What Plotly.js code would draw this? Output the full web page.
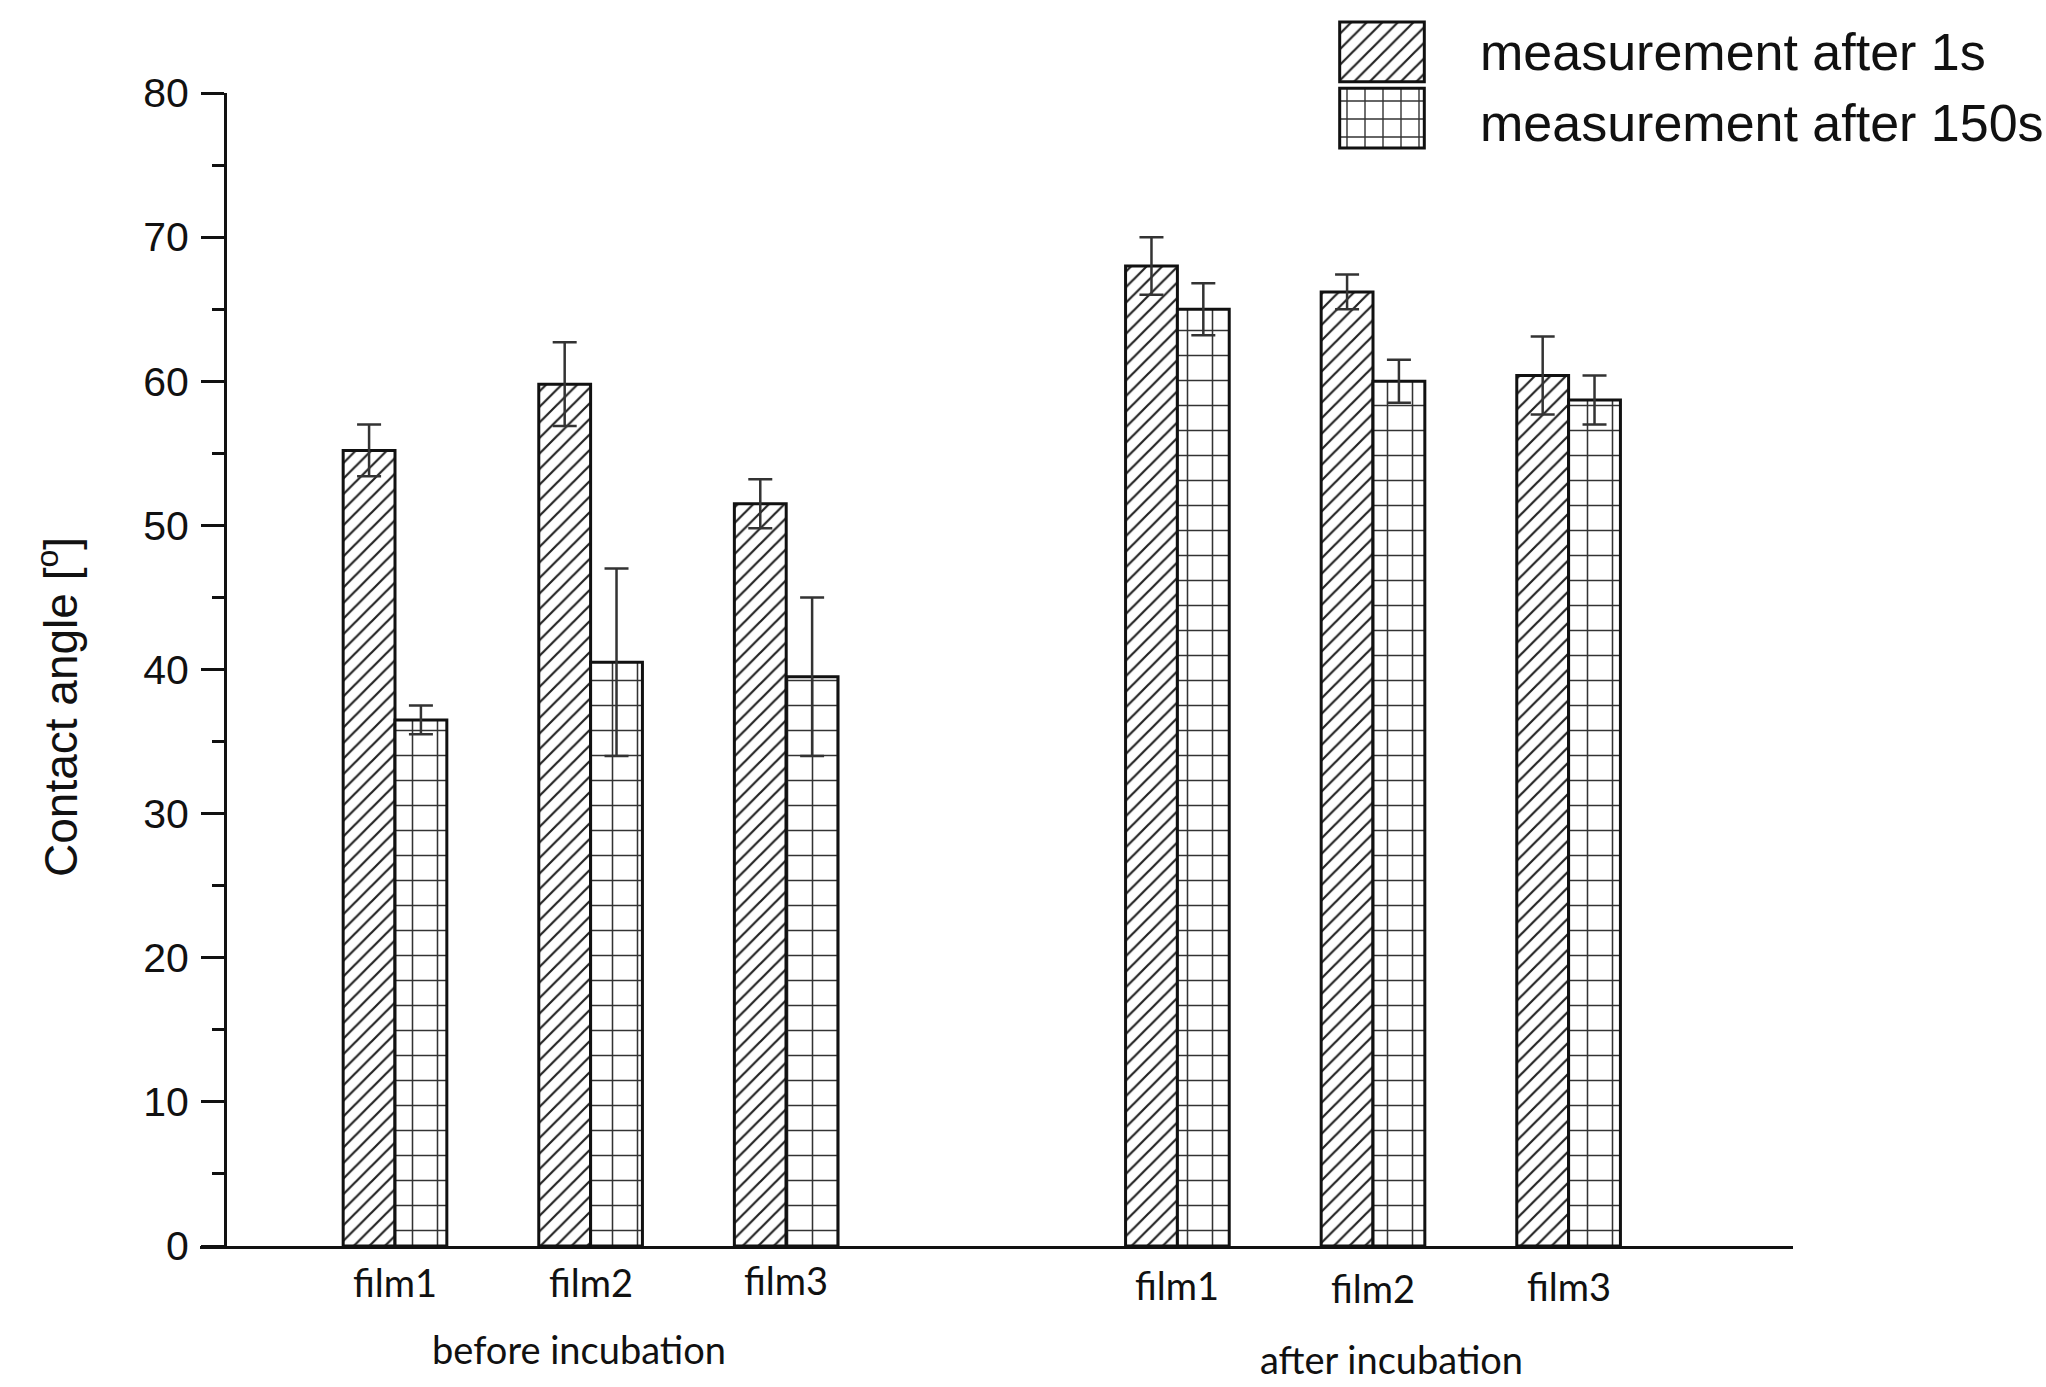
<!DOCTYPE html>
<html>
<head>
<meta charset="utf-8">
<script src="https://cdn.plot.ly/plotly-3.0.1.min.js"></script>
<style>html,body{margin:0;padding:0;background:#fff;}#chart{width:2046px;height:1387px;}</style>
</head>
<body>
<div id="chart"></div>
<script>
// Data
const positions = [0, 1, 2, 4, 5, 6];
const filmLabels = ["film1", "film2", "film3", "film1", "film2", "film3"];
const groupLabels = ["before incubation", "after incubation"];
const seriesNames = ["measurement after 1s", "measurement after 150s"];
const after1s = [55.2, 59.8, 51.5, 68.0, 66.2, 60.4];
const after1sErr = [1.8, 2.9, 1.7, 2.0, 1.2, 2.7];
const after150s = [36.5, 40.5, 39.5, 65.0, 60.0, 58.7];
const after150sErr = [1.0, 6.5, 5.5, 1.8, 1.5, 1.7];

const barW = 0.265;
const off = barW / 2;
const x1 = positions.map(p => p - off);
const x2 = positions.map(p => p + off);

const errStyle = {type: 'data', visible: true, color: '#333', thickness: 2.5, width: 12};
const lineStyle = {color: '#111', width: 3};

const traces = [
  {type: 'bar', x: x1, y: after1s, width: barW, name: seriesNames[0], showlegend: false,
   marker: {color: '#fff', line: lineStyle, pattern: {shape: '/', fgcolor: '#222', bgcolor: '#fff', size: 11, solidity: 0.2}},
   error_y: Object.assign({array: after1sErr}, errStyle), xaxis: 'x', yaxis: 'y'},
  {type: 'bar', x: x2, y: after150s, width: barW, name: seriesNames[1], showlegend: false,
   marker: {color: '#fff', line: lineStyle, pattern: {shape: '+', fgcolor: '#333', bgcolor: '#fff', size: 25, solidity: 0.12}},
   error_y: Object.assign({array: after150sErr}, errStyle), xaxis: 'x', yaxis: 'y'},
  // legend swatches
  {type: 'bar', orientation: 'h', y: [1.5], x: [1], width: 0.9, showlegend: false, hoverinfo: 'skip',
   marker: {color: '#fff', line: lineStyle, pattern: {shape: '/', fgcolor: '#222', bgcolor: '#fff', size: 11, solidity: 0.2}},
   xaxis: 'x2', yaxis: 'y2'},
  {type: 'bar', orientation: 'h', y: [0.5], x: [1], width: 0.9, showlegend: false, hoverinfo: 'skip',
   marker: {color: '#fff', line: lineStyle, pattern: {shape: '+', fgcolor: '#333', bgcolor: '#fff', size: 18, solidity: 0.15}},
   xaxis: 'x2', yaxis: 'y2'}
];

const W = 2046, H = 1387;
const px = v => v / W;
const py = v => 1 - v / H;

const xl = 200, xr = 1793, x0c = 395, unit = 195.6;
const layout = {
  width: W, height: H,
  margin: {l: 0, r: 0, t: 0, b: 0},
  paper_bgcolor: '#fff', plot_bgcolor: 'rgba(0,0,0,0)',
  showlegend: false,
  barmode: 'overlay',
  font: {family: 'Liberation Sans, Arial, sans-serif', color: '#111'},
  xaxis: {
    domain: [px(xl), px(xr)],
    range: [(xl - x0c) / unit, (xr - x0c) / unit],
    showgrid: false, zeroline: false,
    showline: true, linecolor: '#111', linewidth: 3,
    tickmode: 'array', tickvals: positions, ticktext: filmLabels,
    ticks: '', showticklabels: false,
    fixedrange: true
  },
  yaxis: {
    domain: [py(1246), py(93)],
    range: [0, 80],
    anchor: 'free', position: px(225),
    showgrid: false, zeroline: false,
    showline: true, linecolor: '#111', linewidth: 3,
    ticks: 'outside', ticklen: 23, tickwidth: 3, tickcolor: '#111',
    tickmode: 'linear', tick0: 0, dtick: 10,
    minor: {ticks: 'outside', ticklen: 12, tickwidth: 3, tickcolor: '#111', dtick: 5},
    tickfont: {size: 41, family: 'Liberation Sans, Arial, sans-serif', color: '#111'},
    ticklabelstandoff: 4
  },
  xaxis2: {domain: [px(1338), px(1426)], range: [-0.02, 1.02], anchor: 'y2', visible: false, fixedrange: true},
  yaxis2: {domain: [py(150), py(20)], range: [0.02, 1.98], anchor: 'x2', visible: false, fixedrange: true},
  annotations: []
};

// x tick labels (film names)
const labelY = [1282, 1282, 1280, 1285, 1288, 1286];
positions.forEach((p, i) => {
  layout.annotations.push({
    xref: 'x', yref: 'paper', x: p, y: py(labelY[i]), text: filmLabels[i],
    showarrow: false, xanchor: 'center', yanchor: 'middle',
    font: {family: 'Lato, Carlito, sans-serif', size: 38, color: '#111'}
  });
});
// group labels
layout.annotations.push({xref: 'paper', yref: 'paper', x: px(579), y: py(1349), text: groupLabels[0], showarrow: false,
  xanchor: 'center', yanchor: 'middle', font: {family: 'Lato, Carlito, sans-serif', size: 38, color: '#111'}});
layout.annotations.push({xref: 'paper', yref: 'paper', x: px(1391), y: py(1359), text: groupLabels[1], showarrow: false,
  xanchor: 'center', yanchor: 'middle', font: {family: 'Lato, Carlito, sans-serif', size: 38, color: '#111'}});
// y title
layout.annotations.push({xref: 'paper', yref: 'paper', x: px(58), y: py(707), text: 'Contact angle [<sup>o</sup>]', showarrow: false,
  textangle: -90, xanchor: 'center', yanchor: 'middle', font: {family: 'Liberation Sans, Arial, sans-serif', size: 46, color: '#111'}});
// legend texts
layout.annotations.push({xref: 'paper', yref: 'paper', x: px(1478), y: py(52), text: seriesNames[0], showarrow: false,
  xanchor: 'left', yanchor: 'middle', font: {family: 'Liberation Sans, Arial, sans-serif', size: 52, color: '#111'}});
layout.annotations.push({xref: 'paper', yref: 'paper', x: px(1478), y: py(123), text: seriesNames[1], showarrow: false,
  xanchor: 'left', yanchor: 'middle', font: {family: 'Liberation Sans, Arial, sans-serif', size: 52, color: '#111'}});

Plotly.newPlot('chart', traces, layout, {displayModeBar: false, staticPlot: true});
</script>
</body>
</html>
